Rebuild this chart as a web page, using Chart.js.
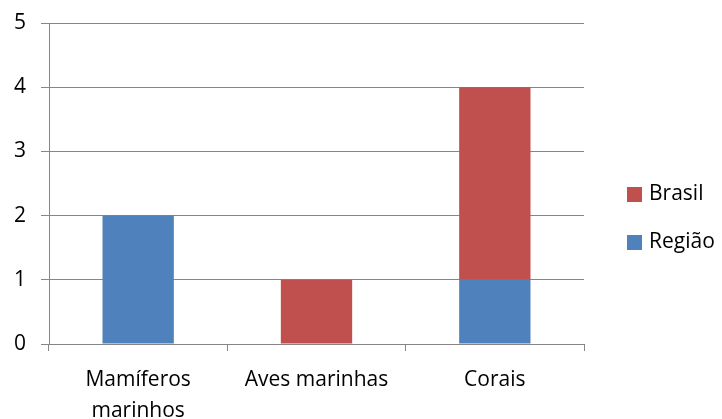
<!DOCTYPE html>
<html>
<head>
<meta charset="utf-8">
<script src="https://cdn.jsdelivr.net/npm/chart.js@4/dist/chart.umd.min.js"></script>
<style>
  html, body { margin: 0; padding: 0; background: #fff; }
  #wrap { width: 722px; height: 419px; position: relative; }
</style>
</head>
<body>
<div id="wrap"><canvas id="c" width="722" height="419"></canvas></div>
<script>
const categories = [['Mamíferos', 'marinhos'], 'Aves marinhas', 'Corais'];
const regiaoValues = [2, 0, 1];
const brasilValues = [0, 1, 3];
const seriesNames = ['Região', 'Brasil'];
const seriesColors = ['#4F81BD', '#C0504D'];

const FONT = '"Open Sans", "Noto Sans", sans-serif';
const GRID = '#868686';

// Legend drawn at the right, listing series top-down in reverse stacking order
const sideLegend = {
  id: 'sideLegend',
  afterDraw(chart) {
    const ctx = chart.ctx;
    const sets = chart.data.datasets.slice().reverse();
    const x = 627, box = 15, gap = 48;
    const startY = 187;
    ctx.save();
    ctx.font = '21px ' + FONT;
    ctx.textBaseline = 'middle';
    ctx.textAlign = 'left';
    sets.forEach((ds, i) => {
      const y = startY + i * gap;
      ctx.fillStyle = ds.backgroundColor;
      ctx.fillRect(x, y, box, box);
      ctx.fillStyle = '#000';
      ctx.fillText(ds.label, x + 22, y + box / 2);
    });
    ctx.restore();
  }
};

new Chart(document.getElementById('c'), {
  type: 'bar',
  data: {
    labels: categories,
    datasets: [
      { label: seriesNames[0], data: regiaoValues, backgroundColor: seriesColors[0] },
      { label: seriesNames[1], data: brasilValues, backgroundColor: seriesColors[1] }
    ]
  },
  options: {
    responsive: false,
    animation: false,
    layout: { padding: { top: 23, right: 138, left: 0, bottom: 0 } },
    datasets: { bar: { categoryPercentage: 1, barPercentage: 0.4, borderWidth: 0 } },
    plugins: { legend: { display: false }, tooltip: { enabled: false } },
    scales: {
      x: {
        stacked: true,
        afterFit(scale) { scale.height = 75; },
        grid: { offset: true, drawOnChartArea: false, drawTicks: true, tickLength: 7, color: GRID, lineWidth: 1 },
        border: { display: true, color: GRID, width: 1 },
        ticks: { color: '#000', font: { family: FONT, size: 21, lineHeight: 1.5 }, padding: 13, maxRotation: 0, autoSkip: false }
      },
      y: {
        stacked: true,
        min: 0, max: 5,
        afterFit(scale) { scale.width = 49; scale.paddingTop = 0; scale.paddingBottom = 0; },
        grid: { color: GRID, lineWidth: 1, tickLength: 8, drawTicks: true },
        border: { display: true, color: GRID, width: 1 },
        ticks: { stepSize: 1, color: '#000', font: { family: FONT, size: 21 }, padding: 15 }
      }
    }
  },
  plugins: [sideLegend]
});
</script>
</body>
</html>
